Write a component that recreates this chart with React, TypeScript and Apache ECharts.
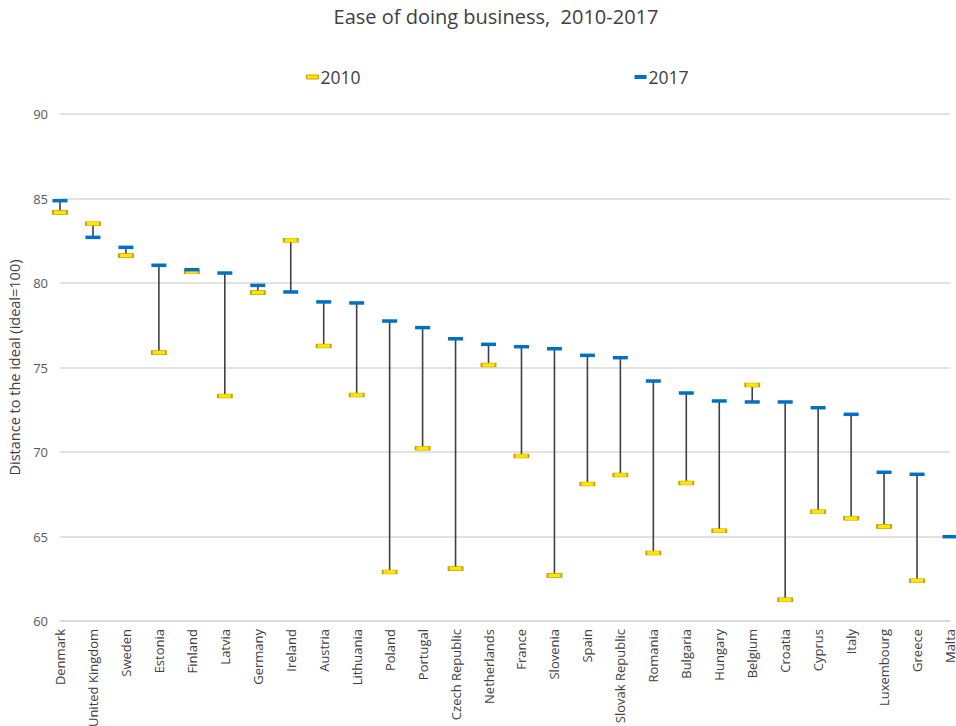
import React, { useEffect, useRef } from "react";
import * as echarts from "echarts";

const countries = [
  "Denmark", "United Kingdom", "Sweden", "Estonia", "Finland", "Latvia", "Germany", "Ireland",
  "Austria", "Lithuania", "Poland", "Portugal", "Czech Republic", "Netherlands", "France",
  "Slovenia", "Spain", "Slovak Republic", "Romania", "Bulgaria", "Hungary", "Belgium",
  "Croatia", "Cyprus", "Italy", "Luxembourg", "Greece", "Malta",
];

const values2010: (number | null)[] = [
  84.18, 83.51, 81.62, 75.88, 80.67, 73.31, 79.43, 82.53,
  76.27, 73.37, 62.9, 70.22, 63.1, 75.15, 69.76,
  62.7, 68.11, 68.64, 64.02, 68.17, 65.34, 73.96,
  61.26, 66.47, 66.08, 65.6, 62.38, null,
];

const values2017: number[] = [
  84.87, 82.7, 82.11, 81.05, 80.79, 80.59, 79.86, 79.47,
  78.88, 78.82, 77.75, 77.36, 76.7, 76.37, 76.23,
  76.11, 75.72, 75.58, 74.2, 73.49, 73.02, 72.96,
  72.96, 72.62, 72.23, 68.8, 68.68, 64.99,
];

const yTicks = { min: 60, max: 90, interval: 5 };

const FONT = "'Open Sans', 'DejaVu Sans', sans-serif";

export default function App() {
  const ref = useRef<HTMLDivElement>(null);
  useEffect(() => {
    if (!ref.current) return;
    const chart = echarts.init(ref.current, undefined, { renderer: "svg" });
    const connectors = countries
      .map((c, i) => (values2010[i] == null ? null : [i, values2010[i], values2017[i]]))
      .filter((d) => d !== null);
    chart.setOption({
      animation: false,
      backgroundColor: "#ffffff",
      title: {
        text: "Ease of doing business,  2010-2017",
        left: 491,
        textAlign: "center",
        top: 1,
        textStyle: { fontFamily: FONT, fontSize: 20, fontWeight: "normal", color: "#404040" },
      },
      legend: {
        left: 301,
        top: 63,
        itemGap: 274,
        itemWidth: 12,
        itemHeight: 4,
        textStyle: { fontFamily: FONT, fontSize: 17.5, color: "#404040", padding: [0, 0, 0, -3] },
        data: [
          { name: "2010", icon: "rect", itemStyle: { color: "#ffe600", borderColor: "#c9a000", borderWidth: 1 } },
          { name: "2017", icon: "rect", itemStyle: { color: "#0070c0" } },
        ],
      },
      grid: { left: 60, right: 6, top: 114, bottom: 105, containLabel: false, outerBoundsMode: "none" },
      xAxis: {
        type: "category",
        data: countries,
        boundaryGap: false,
        axisLine: { show: true, lineStyle: { color: "#d9d9d9", width: 1.5 } },
        axisTick: { show: false },
        axisLabel: {
          rotate: 90,
          interval: 0,
          margin: 8,
          fontFamily: FONT,
          fontSize: 13,
          color: "#404040",
        },
      },
      yAxis: {
        type: "value",
        min: yTicks.min,
        max: yTicks.max,
        interval: yTicks.interval,
        name: "Distance to the ideal (ideal=100)",
        nameLocation: "middle",
        nameGap: 37,
        nameTextStyle: { fontFamily: FONT, fontSize: 14.5, color: "#404040" },
        axisLine: { show: false },
        axisTick: { show: false },
        axisLabel: { fontFamily: FONT, fontSize: 13, color: "#595959", margin: 12 },
        splitLine: { lineStyle: { color: "#d9d9d9", width: 1.5 } },
      },
      series: [
        {
          type: "custom",
          name: "connector",
          silent: true,
          encode: { x: 0, y: [1, 2] },
          data: connectors,
          renderItem: (params: any, api: any) => {
            const a = api.coord([api.value(0), api.value(1)]);
            const b = api.coord([api.value(0), api.value(2)]);
            return {
              type: "line",
              shape: { x1: a[0], y1: a[1], x2: b[0], y2: b[1] },
              style: { stroke: "#404040", lineWidth: 1.6 },
            };
          },
          z: 1,
        },
        {
          type: "scatter",
          name: "2010",
          data: values2010.map((v) => (v == null ? "-" : v)),
          symbol: "rect",
          symbolSize: [14, 4],
          itemStyle: { color: "#ffe600", borderColor: "#c9a000", borderWidth: 1, opacity: 1 },
          z: 3,
        },
        {
          type: "scatter",
          name: "2017",
          data: values2017,
          symbol: "rect",
          symbolSize: [15, 3.5],
          itemStyle: { color: "#0070c0", opacity: 1 },
          z: 3,
        },
      ],
    });
    return () => chart.dispose();
  }, []);
  return <div ref={ref} style={{ width: 956, height: 726, position: "absolute", left: 0, top: 0 }} />;
}
